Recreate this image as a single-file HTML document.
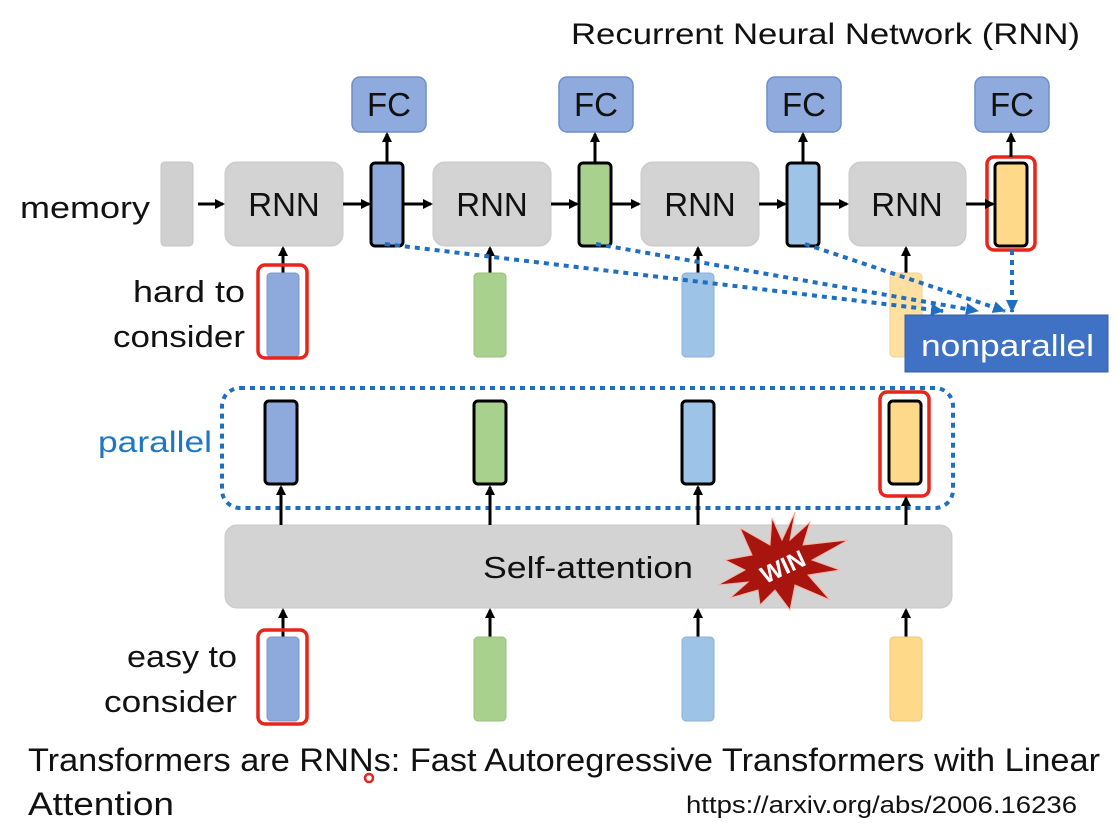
<!DOCTYPE html>
<html><head><style>body{margin:0;background:#fff}svg{display:block}</style></head><body>
<svg width="1119" height="823" viewBox="0 0 1119 823" xmlns="http://www.w3.org/2000/svg" font-family="Liberation Sans, sans-serif">
<defs>
<marker id="a" markerWidth="10" markerHeight="10" refX="8" refY="5" orient="auto" markerUnits="userSpaceOnUse"><path d="M0,0 L10,5 L0,10 z" fill="#000"/></marker>
<marker id="b" markerWidth="14" markerHeight="12" refX="12" refY="6" orient="auto" markerUnits="userSpaceOnUse"><path d="M0,0 L13,6 L0,12 z" fill="#1f6fc0"/></marker>
</defs>
<text x="571" y="44" font-size="30" textLength="509" lengthAdjust="spacingAndGlyphs" fill="#111">Recurrent Neural Network (RNN)</text>
<g fill="#8faadc" stroke="#6f8ec9" stroke-width="1.5">
<rect x="352" y="77" width="74" height="55" rx="8"/><rect x="559" y="77" width="74" height="55" rx="8"/>
<rect x="767" y="77" width="74" height="55" rx="8"/><rect x="975" y="77" width="74" height="55" rx="8"/></g>
<g font-size="33" text-anchor="middle" fill="#111"><text x="389" y="116">FC</text><text x="596" y="116">FC</text><text x="804" y="116">FC</text><text x="1012" y="116">FC</text></g>
<text x="20" y="218" font-size="31" textLength="130" lengthAdjust="spacingAndGlyphs" fill="#111">memory</text>
<rect x="161" y="162" width="32" height="84" rx="4" fill="#d0d0d0" stroke="#c4c4c4"/>
<g fill="#d3d3d3" stroke="#c8c8c8"><rect x="225" y="162" width="118" height="84" rx="12"/><rect x="433" y="162" width="118" height="84" rx="12"/><rect x="641" y="162" width="118" height="84" rx="12"/><rect x="849" y="162" width="117" height="84" rx="12"/></g>
<g font-size="33" text-anchor="middle" fill="#111"><text x="284" y="216">RNN</text><text x="492" y="216">RNN</text><text x="700" y="216">RNN</text><text x="907" y="216">RNN</text></g>
<g stroke="#000" stroke-width="3"><rect x="371" y="163" width="32" height="83" rx="4" fill="#8ea9db"/><rect x="579" y="163" width="32" height="83" rx="4" fill="#a9d18e"/><rect x="787" y="163" width="32" height="83" rx="4" fill="#9dc3e6"/><rect x="995" y="163" width="32" height="83" rx="4" fill="#ffd98a"/></g>
<rect x="987" y="157" width="48" height="93" rx="7" fill="none" stroke="#e8251a" stroke-width="3.5"/>
<g stroke="#000" stroke-width="3" marker-end="url(#a)">
<line x1="198" y1="204" x2="223" y2="204"/><line x1="343" y1="204" x2="369" y2="204"/><line x1="404" y1="204" x2="431" y2="204"/><line x1="551" y1="204" x2="577" y2="204"/><line x1="612" y1="204" x2="639" y2="204"/><line x1="759" y1="204" x2="785" y2="204"/><line x1="820" y1="204" x2="847" y2="204"/><line x1="966" y1="204" x2="993" y2="204"/>
<line x1="387" y1="162" x2="387" y2="134"/><line x1="595" y1="162" x2="595" y2="134"/><line x1="803" y1="162" x2="803" y2="134"/><line x1="1011" y1="157" x2="1011" y2="134"/>
<line x1="283" y1="273" x2="283" y2="248"/><line x1="490" y1="273" x2="490" y2="248"/><line x1="698" y1="273" x2="698" y2="248"/><line x1="906" y1="273" x2="906" y2="248"/>
</g>
<rect x="267" y="273" width="32" height="84" rx="4" fill="#8ea9db" stroke="#7d98cc"/>
<rect x="474" y="273" width="32" height="84" rx="4" fill="#a9d18e" stroke="#98c07d"/>
<rect x="682" y="273" width="32" height="84" rx="4" fill="#9dc3e6" stroke="#8cb2d5"/>
<rect x="890" y="273" width="32" height="84" rx="4" fill="#ffd98a" stroke="#eec879" opacity="0.8"/>
<rect x="258" y="265" width="49" height="93" rx="7" fill="none" stroke="#e8251a" stroke-width="3.5"/>
<text x="133" y="302" font-size="31" textLength="112" lengthAdjust="spacingAndGlyphs" fill="#111">hard to</text>
<text x="113" y="347" font-size="31" textLength="132" lengthAdjust="spacingAndGlyphs" fill="#111">consider</text>
<g stroke="#1f6fc0" stroke-width="4" stroke-dasharray="5,5" fill="none" marker-end="url(#b)">
<line x1="385" y1="244" x2="943" y2="311"/><line x1="596" y1="244" x2="978" y2="311"/><line x1="805" y1="244" x2="1005" y2="311"/><line x1="1012" y1="250" x2="1012" y2="312"/>
</g>
<rect x="905" y="315" width="203" height="57" fill="#3f72c4" stroke="#355fa8"/>
<text x="921" y="356" font-size="31" textLength="173" lengthAdjust="spacingAndGlyphs" fill="#fff">nonparallel</text>
<rect x="222" y="388" width="731" height="120" rx="18" fill="none" stroke="#1f6fc0" stroke-width="4" stroke-dasharray="5,5"/>
<text x="98" y="452" font-size="30" textLength="114" lengthAdjust="spacingAndGlyphs" fill="#1f77c4">parallel</text>
<g stroke="#000" stroke-width="3"><rect x="265" y="401" width="32" height="83" rx="4" fill="#8ea9db"/><rect x="474" y="401" width="32" height="83" rx="4" fill="#a9d18e"/><rect x="682" y="401" width="32" height="83" rx="4" fill="#9dc3e6"/><rect x="889" y="401" width="32" height="83" rx="4" fill="#ffd98a"/></g>
<rect x="880" y="392" width="49" height="104" rx="7" fill="none" stroke="#e8251a" stroke-width="3.5"/>
<rect x="225" y="525" width="727" height="83" rx="12" fill="#d3d3d3" stroke="#c8c8c8"/>
<text x="483" y="578" font-size="31" textLength="210" lengthAdjust="spacingAndGlyphs" fill="#111">Self-attention</text>
<g stroke="#000" stroke-width="3" marker-end="url(#a)">
<line x1="281" y1="525" x2="281" y2="487"/><line x1="490" y1="525" x2="490" y2="487"/><line x1="698" y1="525" x2="698" y2="487"/><line x1="906" y1="525" x2="906" y2="498"/>
<line x1="283" y1="637" x2="283" y2="610"/><line x1="490" y1="637" x2="490" y2="610"/><line x1="698" y1="637" x2="698" y2="610"/><line x1="906" y1="637" x2="906" y2="610"/>
</g>
<polygon points="795,512 790,540 810,522 803,545 848,540 812,560 840,570 808,575 830,600 795,585 790,610 775,590 760,605 758,590 730,598 748,582 718,585 745,570 725,560 752,555 740,528 770,545 772,518 782,540" fill="#a8140e" stroke="#ffb0a0" stroke-width="1"/>
<text x="783" y="575" font-size="24" font-weight="bold" fill="#fff" text-anchor="middle" transform="rotate(-25 783 567)">WIN</text>
<rect x="267" y="637" width="32" height="84" rx="4" fill="#8ea9db" stroke="#7d98cc"/>
<rect x="474" y="637" width="32" height="84" rx="4" fill="#a9d18e" stroke="#98c07d"/>
<rect x="682" y="637" width="32" height="84" rx="4" fill="#9dc3e6" stroke="#8cb2d5"/>
<rect x="890" y="637" width="32" height="84" rx="4" fill="#ffd98a" stroke="#eec879"/>
<rect x="258" y="630" width="49" height="94" rx="7" fill="none" stroke="#e8251a" stroke-width="3.5"/>
<text x="127" y="667" font-size="31" textLength="110" lengthAdjust="spacingAndGlyphs" fill="#111">easy to</text>
<text x="104" y="712" font-size="31" textLength="133" lengthAdjust="spacingAndGlyphs" fill="#111">consider</text>
<text x="28" y="771" font-size="32" textLength="1072" lengthAdjust="spacingAndGlyphs" fill="#111">Transformers are RNNs: Fast Autoregressive Transformers with Linear</text>
<text x="28" y="815" font-size="32" textLength="146" lengthAdjust="spacingAndGlyphs" fill="#111">Attention</text>
<text x="686" y="813" font-size="24" textLength="391" lengthAdjust="spacingAndGlyphs" fill="#111">https://arxiv.org/abs/2006.16236</text>
<circle cx="369" cy="778" r="4" fill="none" stroke="#e8251a" stroke-width="2.5"/>
</svg>
</body></html>
